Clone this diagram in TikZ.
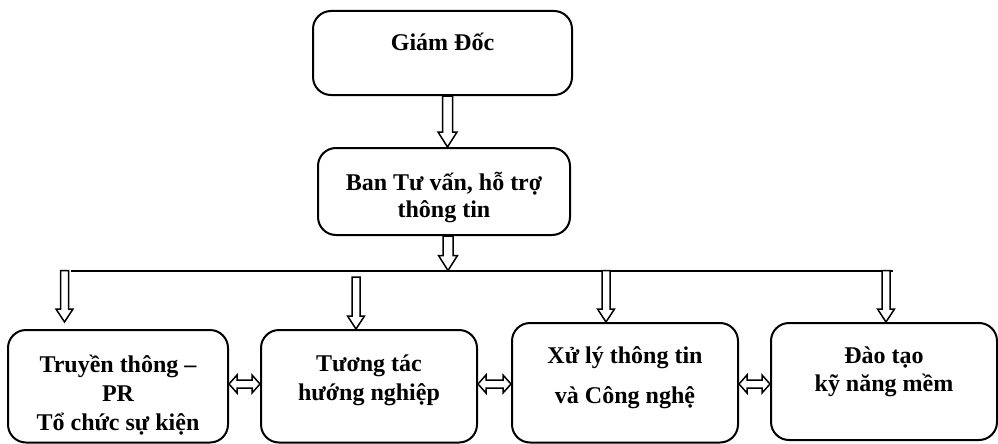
\documentclass[tikz,border=0pt]{standalone}
\usepackage{fontspec}
\setmainfont{Liberation Serif}
\usetikzlibrary{calc}
\newcommand{\hollowdown}[5]{%
\draw[hollow]($(#1)+(-#3,0)$)--($(#2)+(-#3,-#5)$)--($(#2)+(-#4,-#5)$)--(#2)--($(#2)+(#4,-#5)$)--($(#2)+(#3,-#5)$)--($(#1)+(#3,0)$)--cycle;}
\newcommand{\hollowboth}[2]{%
\draw[hollow](#1)--($(#1)+(8,-9)$)--($(#1)+(8,-4)$)--($(#2)+(-8,-4)$)--($(#2)+(-8,-9)$)--(#2)--($(#2)+(-8,9)$)--($(#2)+(-8,4)$)--($(#1)+(8,4)$)--($(#1)+(8,9)$)--cycle;}
\begin{document}
\begin{tikzpicture}[x=1pt,y=-1pt,
box/.style={draw,line width=2pt,rounded corners=18pt,inner sep=0pt},
txt/.style={font=\fontsize{24}{29}\selectfont\bfseries,align=center,inner sep=0pt},
hollow/.style={draw,fill=white,line width=1.5pt,line join=miter}]
\fill[white](0,0)rectangle(998,444);
\useasboundingbox(0,0)rectangle(998,444);
\node[box,minimum width=259pt,minimum height=84pt](gd)at(442.5,53){};
\node[box,minimum width=252pt,minimum height=87pt](ban)at(444,191.5){};
\node[box,minimum width=220pt,minimum height=112.5pt](ta)at(118,386.25){};
\node[box,minimum width=216pt,minimum height=112.5pt](tb)at(369,386.25){};
\node[box,minimum width=226pt,minimum height=119.5pt](tc)at(625,382.75){};
\node[box,minimum width=226pt,minimum height=117pt](td)at(884,381.5){};
\node[txt](gdt)at($(gd)+(0,-11)$){Giám Đốc};
\node[txt](bant)at($(ban)+(0,6.5)$){Ban Tư vấn, hỗ trợ\\[-2pt]thông tin};
\node[txt](tat)at($(ta)+(0,8.5)$){Truyền thông –\\PR\\Tổ chức sự kiện};
\node[txt](tbt)at($(tb)+(0,-6)$){Tương tác\\hướng nghiệp};
\node[txt](tct)at($(tc)+(0,-5.5)$){Xử lý thông tin\\[11pt]và Công nghệ};
\node[txt](tdt)at($(td)+(0,-10)$){Đào tạo\\[-1pt]kỹ năng mềm};
\coordinate(bl)at(71,270.5);
\coordinate(br)at(893,270.5);
\draw[line width=2pt](bl)--(br);
\coordinate(s1)at($(gd.south)+(5,0)$);
\coordinate(s2)at($(ban.south)+(4,0)$);
\hollowdown{s1}{s1 |- ban.north}{5}{9.5}{15}
\hollowdown{s2}{s2 |- bl}{5}{9.5}{15}
\coordinate(r1)at(64.5,270.5);
\coordinate(r2)at(356,277);
\coordinate(r3)at(606,270.5);
\coordinate(r4)at(886,270.5);
\coordinate(e1)at($(r1 |- ta.north)+(0,-7)$);
\hollowdown{r1}{e1}{4}{8.5}{13}
\hollowdown{r2}{r2 |- tb.north}{4}{8.5}{13}
\hollowdown{r3}{r3 |- tc.north}{4}{8.5}{13}
\hollowdown{r4}{r4 |- td.north}{4}{8.5}{13}
\coordinate(m)at(0,384);
\hollowboth{ta.east |- m}{tb.west |- m}
\hollowboth{tb.east |- m}{tc.west |- m}
\hollowboth{tc.east |- m}{td.west |- m}
\end{tikzpicture}
\end{document}
